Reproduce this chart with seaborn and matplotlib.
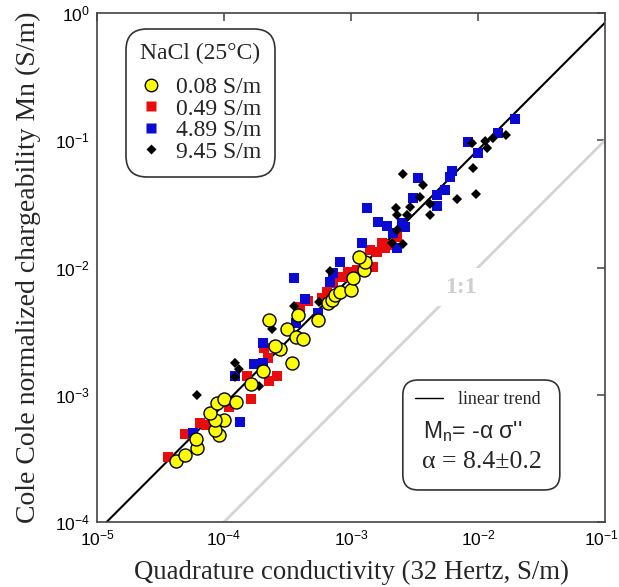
import matplotlib
matplotlib.use("Agg")
import matplotlib.pyplot as plt
import matplotlib.transforms as mtransforms
from matplotlib.lines import Line2D
from matplotlib.patches import FancyBboxPatch
from matplotlib.ticker import NullLocator
import numpy as np
import pandas as pd
import seaborn as sns

# quadrature conductivity (S/m) vs normalized chargeability Mn (S/m), per NaCl solution
x_008 = [4.19e-5, 4.93e-5, 6.12e-5, 6.02e-5, 9.14e-5, 8.49e-5, 1.00e-4, 8.50e-5, 7.77e-5, 8.81e-5,
         1.00e-4, 1.24e-4, 1.63e-4, 2.03e-4, 3.43e-4, 2.76e-4, 2.52e-4, 3.13e-4, 2.26e-4, 3.83e-4,
         3.69e-4, 4.19e-4, 5.50e-4, 6.59e-4, 7.08e-4, 7.48e-4, 8.18e-4, 1.00e-3, 1.04e-3, 1.26e-3,
         1.29e-3, 1.16e-3]
y_008 = [3.01e-4, 3.36e-4, 3.82e-4, 4.49e-4, 4.83e-4, 5.28e-4, 6.33e-4, 6.33e-4, 7.19e-4, 8.61e-4,
         9.27e-4, 8.77e-4, 1.21e-3, 1.54e-3, 1.78e-3, 2.29e-3, 2.42e-3, 3.29e-3, 3.87e-3, 4.24e-3,
         2.84e-3, 2.74e-3, 3.87e-3, 5.26e-3, 5.55e-3, 6.08e-3, 6.42e-3, 6.65e-3, 8.27e-3, 9.55e-3,
         1.10e-2, 1.21e-2]

x_049 = [3.62e-5, 4.93e-5, 6.47e-5, 7.21e-5, 1.09e-4, 1.63e-4, 1.52e-4, 2.26e-4, 2.61e-4, 2.22e-4,
         2.07e-4, 3.96e-4, 4.58e-4, 5.91e-4, 6.47e-4, 7.21e-4, 8.49e-4, 9.46e-4, 1.11e-3, 1.49e-3,
         1.41e-3, 1.60e-3, 1.75e-3, 1.85e-3, 2.03e-3, 2.30e-3]
y_049 = [3.24e-4, 4.92e-4, 6.00e-4, 5.78e-4, 8.02e-4, 9.27e-4, 1.40e-3, 1.28e-3, 1.40e-3, 1.95e-3,
         2.33e-3, 4.89e-3, 5.45e-3, 5.75e-3, 6.42e-3, 7.55e-3, 8.42e-3, 9.22e-3, 9.55e-3, 1.01e-2,
         1.37e-2, 1.32e-2, 1.56e-2, 1.42e-2, 1.50e-2, 1.74e-2]

x_489 = [5.70e-5, 1.34e-4, 1.22e-4, 1.72e-4, 2.03e-4, 2.03e-4, 3.69e-4, 3.56e-4, 4.35e-4, 5.50e-4,
         6.84e-4, 7.21e-4, 8.18e-4, 1.22e-3, 1.34e-3, 1.63e-3, 1.92e-3, 2.14e-3, 2.52e-3, 2.66e-3,
         2.30e-3, 3.37e-3, 3.08e-3, 4.75e-3, 4.75e-3, 5.50e-3, 6.03e-3, 6.24e-3, 8.34e-3, 1.00e-2,
         1.44e-2, 1.95e-2]
y_489 = [5.00e-4, 6.11e-4, 1.40e-3, 1.74e-3, 1.78e-3, 2.55e-3, 3.66e-3, 8.27e-3, 5.65e-3, 4.39e-3,
         7.69e-3, 9.05e-3, 1.10e-2, 1.56e-2, 2.94e-2, 2.28e-2, 2.12e-2, 1.87e-2, 2.24e-2, 2.08e-2,
         1.42e-2, 5.05e-2, 3.52e-2, 3.72e-2, 3.04e-2, 4.06e-2, 5.14e-2, 5.73e-2, 9.69e-2, 7.94e-2,
         0.114, 0.147]

x_945 = [6.12e-5, 1.22e-4, 1.31e-4, 1.22e-4, 1.89e-4, 2.39e-4, 3.56e-4, 5.60e-4, 6.84e-4, 2.10e-3,
         2.56e-3, 2.30e-3, 2.26e-3, 2.30e-3, 2.92e-3, 2.76e-3, 4.19e-3, 4.19e-3, 2.56e-3, 3.69e-3,
         3.49e-3, 6.84e-3, 9.14e-3, 9.64e-3, 8.98e-3, 1.14e-2, 1.18e-2, 1.31e-2, 1.66e-2]
y_945 = [9.95e-4, 1.78e-3, 1.59e-3, 1.38e-3, 1.17e-3, 3.29e-3, 4.98e-3, 5.36e-3, 9.38e-3, 1.56e-2,
         1.53e-2, 1.97e-2, 2.94e-2, 2.59e-2, 2.99e-2, 2.59e-2, 3.16e-2, 2.59e-2, 5.43e-2, 4.45e-2,
         3.58e-2, 3.45e-2, 6.05e-2, 3.78e-2, 9.51e-2, 9.86e-2, 8.69e-2, 0.104, 0.110]

labels = ["0.08 S/m", "0.49 S/m", "4.89 S/m", "9.45 S/m"]

alpha_fit = 8.4
trend_x = [1e-5, 1e-1]
one_x = [1e-4, 1e-1]

xticks = [1e-5, 1e-4, 1e-3, 1e-2, 1e-1]
yticks = [1e-4, 1e-3, 1e-2, 1e-1, 1e0]

sns.set_style("white")
plt.rcParams["font.family"] = ["Liberation Sans", "DejaVu Sans"]
plt.rcParams["mathtext.default"] = "regular"
SERIF = ["Liberation Serif", "DejaVu Serif"]

df = pd.concat([
    pd.DataFrame({"sigma": x_008, "Mn": y_008, "NaCl": labels[0]}),
    pd.DataFrame({"sigma": x_049, "Mn": y_049, "NaCl": labels[1]}),
    pd.DataFrame({"sigma": x_489, "Mn": y_489, "NaCl": labels[2]}),
    pd.DataFrame({"sigma": x_945, "Mn": y_945, "NaCl": labels[3]}),
])

styles = {
    "0.08 S/m": dict(marker="o", color="#ffff00", edgecolor="black", linewidth=1.0, s=88, zorder=6),
    "0.49 S/m": dict(marker="s", color="#e80c0c", edgecolor="none", linewidth=0, s=48, zorder=3),
    "4.89 S/m": dict(marker="s", color="#0a0ad2", edgecolor="none", linewidth=0, s=52, zorder=4),
    "9.45 S/m": dict(marker="D", color="black", edgecolor="none", linewidth=0, s=26, zorder=5),
}

fig = plt.figure(figsize=(6.19, 5.87), dpi=100)
ax = fig.add_axes([0.1567, 0.1107, 0.8207, 0.8671])

# 1:1 line and linear trend
sns.lineplot(x=one_x, y=one_x, color="#d4d4d4", linewidth=2.0, ax=ax, zorder=1)
sns.lineplot(x=trend_x, y=alpha_fit * np.array(trend_x), color="black", linewidth=1.5, ax=ax, zorder=2)

for lab in labels:
    sub = df[df["NaCl"] == lab]
    sns.scatterplot(data=sub, x="sigma", y="Mn", ax=ax, legend=False, **styles[lab])

ax.text(7.3e-3, 7.0e-3, "1:1", family=SERIF, fontweight="bold", fontsize=17, color="#cfcfcf",
        ha="center", va="center", zorder=2,
        bbox=dict(boxstyle="square,pad=0.35", facecolor="white", edgecolor="none"))

ax.set_xscale("log")
ax.set_yscale("log")
ax.set_xlim(1e-5, 1e-1)
ax.set_ylim(1e-4, 1e0)
ax.set_xticks(xticks)
ax.set_yticks(yticks)
ax.xaxis.set_minor_locator(NullLocator())
ax.yaxis.set_minor_locator(NullLocator())
ax.tick_params(which="both", direction="in", top=True, right=True, length=6, width=1.1,
               color="#444444", labelsize=12.5, labelcolor="black", pad=5)
for sp in ax.spines.values():
    sp.set_color("#444444")
    sp.set_linewidth(1.2)

ax.set_xlabel("Quadrature conductivity (32 Hertz, S/m)", family=SERIF, fontsize=19.3, labelpad=8)
ax.set_ylabel("Cole Cole normalized chargeability Mn (S/m)", family=SERIF, fontsize=20, labelpad=10)

# NaCl legend
handles = [
    Line2D([], [], ls="none", marker="o", markersize=9, markerfacecolor="#ffff00", markeredgecolor="black", markeredgewidth=1.0),
    Line2D([], [], ls="none", marker="s", markersize=6.5, markerfacecolor="#e80c0c", markeredgecolor="none"),
    Line2D([], [], ls="none", marker="s", markersize=6.5, markerfacecolor="#0a0ad2", markeredgecolor="none"),
    Line2D([], [], ls="none", marker="D", markersize=5, markerfacecolor="black", markeredgecolor="none"),
]
leg = ax.legend(handles, labels, title="NaCl (25°C)", loc="upper left", bbox_to_anchor=(0.057, 0.969),
                borderaxespad=0, prop={"family": SERIF, "size": 17},
                title_fontproperties={"family": SERIF, "size": 17},
                labelspacing=0.0, handlelength=0.9, handletextpad=0.6, borderpad=0.6,
                frameon=True, fancybox=True, framealpha=1, edgecolor="#333333")
leg._legend_box.sep = 9
leg.get_frame().set_boxstyle("round", pad=0, rounding_size=0.9)
leg.get_frame().set_linewidth(1.2)
ax.add_artist(leg)

# linear trend box
box = FancyBboxPatch((0.602, 0.063), 0.309, 0.216, boxstyle="round,pad=0,rounding_size=0.03",
                     transform=ax.transAxes, facecolor="white", edgecolor="#333333", linewidth=1.2, zorder=7)
ax.add_patch(box)
trend_handle = Line2D([], [], color="black", linewidth=1.0)
leg2 = ax.legend([trend_handle], ["linear trend"], loc="center left", bbox_to_anchor=(0.626, 0.240),
                 borderaxespad=0, borderpad=0, frameon=False, handlelength=1.55, handletextpad=0.83,
                 prop={"family": SERIF, "size": 13})
leg2.set_zorder(8)
ax.text(0.642, 0.177, "M$_n$= -α σ''", transform=ax.transAxes, family=["Liberation Sans", "DejaVu Sans"],
        fontsize=16.5, ha="left", va="center", zorder=8)
ax.text(0.640, 0.118, "α = 8.4±0.2", transform=ax.transAxes, family=SERIF,
        fontsize=18.5, ha="left", va="center", zorder=8)

# nudge the last x tick label inside the canvas
fig.canvas.draw()
last = ax.get_xticklabels()[-1]
last.set_transform(mtransforms.offset_copy(last.get_transform(), fig=fig, x=-4, units="dots"))

fig.savefig("out.png", dpi=100)
